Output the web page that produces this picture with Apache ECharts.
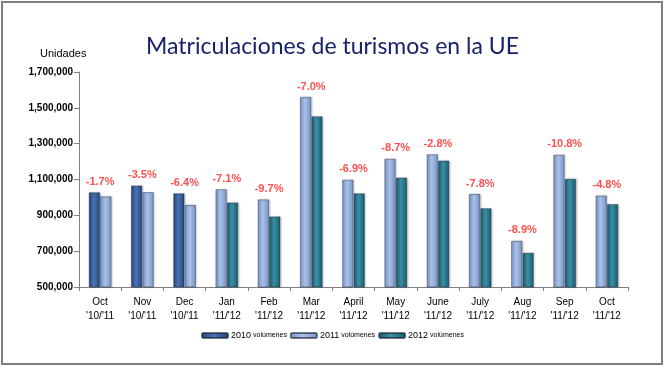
<!DOCTYPE html>
<html>
<head>
<meta charset="utf-8">
<script src="https://cdn.jsdelivr.net/npm/echarts@6/dist/echarts.min.js"></script>
<style>
html,body{margin:0;padding:0;background:#fff;}
#c{width:665px;height:368px;}
</style>
</head>
<body>
<div id="c"></div>
<script>
var categories = ["Oct\n'10/'11","Nov\n'10/'11","Dec\n'10/'11","Jan\n'11/'12","Feb\n'11/'12","Mar\n'11/'12","April\n'11/'12","May\n'11/'12","June\n'11/'12","July\n'11/'12","Aug\n'11/'12","Sep\n'11/'12","Oct\n'11/'12"];
var vol2010 = [1028000,1066000,1022000,null,null,null,null,null,null,null,null,null,null];
var vol2011 = [1005000,1029000,957000,1045000,988000,1560000,1098000,1215000,1240000,1018000,757000,1237000,1010000];
var vol2012 = [null,null,null,971000,893000,1452000,1022000,1110000,1205000,939000,690000,1103000,962000];
var changes = ["-1.7%","-3.5%","-6.4%","-7.1%","-9.7%","-7.0%","-6.9%","-8.7%","-2.8%","-7.8%","-8.9%","-10.8%","-4.8%"];
var seriesNames = ['2010 volúmenes','2011 volúmenes','2012 volúmenes'];

function grad(edge, mid){
  return new echarts.graphic.LinearGradient(0,0,1,0,[
    {offset:0,color:edge},{offset:0.45,color:mid},{offset:1,color:edge}]);
}
var c2010 = grad('#24457c','#4a74b4');
var c2011 = grad('#7894c6','#a9c1e8');
var c2012 = grad('#1b5a6b','#3a90a6');

var left2011 = vol2011.map(function(v,i){return vol2010[i]==null?v:null;});
var right2011 = vol2011.map(function(v,i){return vol2010[i]!=null?v:null;});
var labelPts = categories.map(function(c,i){
  var a=[vol2010[i],vol2011[i],vol2012[i]].filter(function(x){return x!=null;});
  return {value:[i,Math.max.apply(null,a)], pct:changes[i]};
});

var border = {borderColor:'rgba(20,30,50,0.6)', borderWidth:0.6,
  shadowColor:'rgba(0,0,0,0.25)', shadowBlur:2, shadowOffsetX:1, shadowOffsetY:0};
function bar(name, stack, data, color){
  return {type:'bar', name:name, stack:stack, data:data, barWidth:11, barGap:'4%',
    itemStyle:Object.assign({color:color}, border)};
}

var chart = echarts.init(document.getElementById('c'));
chart.setOption({
  animation:false,
  backgroundColor:'#fff',
  title:{text:'Matriculaciones de turismos en la UE', left:'center', top:30,
    textStyle:{fontFamily:'Lato', fontSize:23, fontWeight:'normal', color:'#14236a'}},
  graphic:[
    {type:'rect', shape:{x:2,y:2,width:660,height:362}, style:{fill:'none',stroke:'#7f7f7f',lineWidth:2}},
    {type:'text', left:40, top:48, style:{text:'Unidades', font:'11px "Liberation Sans"', fill:'#000'}}
  ],
  legend:{bottom:23, left:'center', itemWidth:26, itemHeight:5, itemGap:3,
    data:seriesNames,
    formatter:function(n){var p=n.split(' ');return '{y|'+p[0]+'}{v|'+p[1]+'}';},
    textStyle:{color:'#000', fontFamily:'Liberation Sans', padding:[0,0,0,-2],
      rich:{y:{fontSize:9, fontFamily:'Liberation Sans', padding:[0,2,0,0]}, v:{fontSize:7, fontFamily:'Liberation Sans'}}}},
  grid:{left:79, right:37, top:72, bottom:81},
  xAxis:{type:'category', data:categories,
    axisLine:{lineStyle:{color:'#808080'}},
    axisTick:{show:true, length:4, lineStyle:{color:'#808080'}},
    axisLabel:{fontSize:10, color:'#000', lineHeight:14, margin:8, fontFamily:'Liberation Sans', interval:0}},
  yAxis:{type:'value', min:500000, max:1700000, interval:200000,
    splitLine:{show:false},
    axisLine:{show:true, lineStyle:{color:'#808080'}},
    axisTick:{show:true, length:5, lineStyle:{color:'#808080'}},
    axisLabel:{fontSize:10, fontWeight:'bold', color:'#000', margin:6, fontFamily:'Liberation Sans',
      formatter:function(v){return v.toLocaleString('en-US');}}},
  series:[
    bar(seriesNames[0],'a',vol2010,c2010),
    bar(seriesNames[1],'a',left2011,c2011),
    bar(seriesNames[1],'b',right2011,c2011),
    bar(seriesNames[2],'b',vol2012,c2012),
    {type:'scatter', symbolSize:0, data:labelPts, silent:true, z:5,
      label:{show:true, position:'top', distance:5, color:'#ff2222', fontWeight:'bold', fontSize:11, fontFamily:'Liberation Sans',
        formatter:function(p){return p.data.pct;}}}
  ]
});
</script>
</body>
</html>
